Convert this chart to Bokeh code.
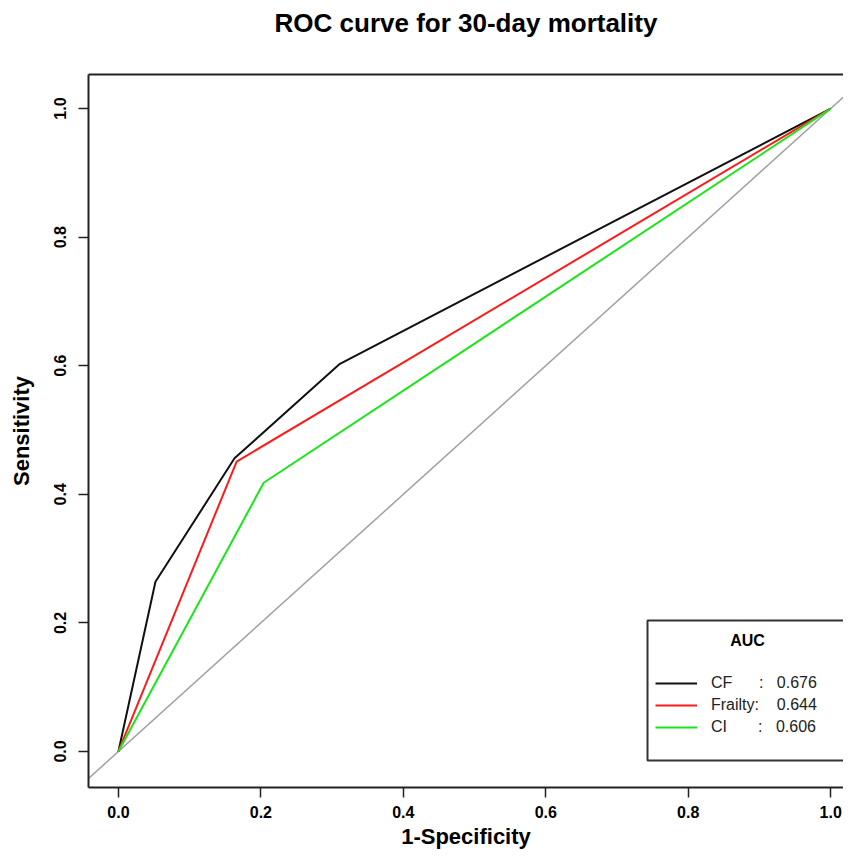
from bokeh.plotting import figure
from bokeh.models import (Range1d, FixedTicker, PrintfTickFormatter, LinearAxis,
                          Legend, LegendItem, Label, Slope, BoxAnnotation)
from bokeh.embed import file_html
from bokeh.resources import INLINE

# ---- data ----
cf_fpr = [0.0, 0.052, 0.163, 0.311, 1.0]
cf_tpr = [0.0, 0.264, 0.456, 0.603, 1.0]
frailty_fpr = [0.0, 0.166, 1.0]
frailty_tpr = [0.0, 0.451, 1.0]
ci_fpr = [0.0, 0.204, 1.0]
ci_tpr = [0.0, 0.418, 1.0]
auc_names = ["CF", "Frailty", "CI"]
auc_values = ["0.676", "0.644", "0.606"]
ticks = [0.0, 0.2, 0.4, 0.6, 0.8, 1.0]
title_text = "ROC curve for 30-day mortality"

FONT = "Liberation Sans"

p = figure(width=843, height=851, output_backend="svg", toolbar_location=None,
           x_range=Range1d(-0.042, 1.018), y_range=Range1d(-0.056, 1.053),
           min_border_left=88, min_border_right=0, min_border_top=74, min_border_bottom=62,
           x_axis_label="1-Specificity", y_axis_label="Sensitivity")
p.outline_line_color = None
p.grid.visible = False
p.background_fill_color = "white"
p.border_fill_color = "white"
p.title.visible = False

for ax in [p.xaxis[0], p.yaxis[0]]:
    ax.ticker = FixedTicker(ticks=ticks)
    ax.formatter = PrintfTickFormatter(format="%.1f")
    ax.minor_tick_line_color = None
    ax.major_tick_out = 10
    ax.major_tick_in = 0
    ax.major_tick_line_width = 1.5
    ax.major_tick_line_color = "#222222"
    ax.axis_line_width = 2
    ax.axis_line_color = "#222222"
    ax.major_label_text_font = FONT
    ax.major_label_text_font_size = "16px"
    ax.major_label_text_font_style = "bold"
    ax.major_label_text_color = "black"
    ax.axis_label_text_font = FONT
    ax.axis_label_text_font_size = "22px"
    ax.axis_label_text_font_style = "bold"
    ax.axis_label_text_color = "black"

p.yaxis[0].major_label_orientation = "vertical"
p.yaxis[0].major_label_standoff = 12
p.yaxis[0].axis_label_standoff = 18
p.xaxis[0].major_label_standoff = 8
p.xaxis[0].axis_label_standoff = 3

# top frame line carrying the chart title
top = LinearAxis(ticker=FixedTicker(ticks=[]), axis_line_width=2, axis_line_color="#222222",
                 major_tick_line_color=None, minor_tick_line_color=None,
                 major_label_text_font_size="0px",
                 axis_label=title_text, axis_label_text_font=FONT,
                 axis_label_text_font_size="26px", axis_label_text_font_style="bold",
                 axis_label_text_color="black", axis_label_standoff=37)
p.add_layout(top, "above")

diag = Slope(gradient=1, y_intercept=0, line_color="#a0a0a0", line_width=1.5, level="underlay")
p.add_layout(diag)

r_cf = p.line(cf_fpr, cf_tpr, line_color="#111111", line_width=2)
r_fr = p.line(frailty_fpr, frailty_tpr, line_color="#ff1a1a", line_width=2)
r_ci = p.line(ci_fpr, ci_tpr, line_color="#19e619", line_width=2)

# legend box
box = BoxAnnotation(left=559, right=756, bottom=27, top=167,
                    left_units="screen", right_units="screen",
                    bottom_units="screen", top_units="screen",
                    fill_alpha=0, line_color="#333333", line_width=2, line_alpha=1)
p.add_layout(box)

NB = "\u00a0"
labels = [
    auc_names[0] + NB * 6 + ":" + NB * 3 + auc_values[0],
    auc_names[1] + ":" + NB * 4 + auc_values[1],
    auc_names[2] + NB * 7 + ":" + NB * 3 + auc_values[2],
]
legend = Legend(items=[LegendItem(label=labels[0], renderers=[r_cf]),
                       LegendItem(label=labels[1], renderers=[r_fr]),
                       LegendItem(label=labels[2], renderers=[r_ci])],
                location=(567, 49),
                label_text_font=FONT, label_text_font_size="16px", label_text_color="#222222",
                glyph_width=42, glyph_height=22, label_height=22, label_standoff=14,
                spacing=0, padding=0, margin=0,
                border_line_color=None, background_fill_alpha=0)
p.add_layout(legend)

auc_title = Label(x=659, y=147, x_units="screen", y_units="screen", text="AUC",
                  text_font=FONT, text_font_size="16px", text_font_style="bold",
                  text_align="center", text_baseline="middle", text_color="black",
                  level="overlay")
p.add_layout(auc_title)

open("out.html", "w").write(file_html(p, INLINE))
